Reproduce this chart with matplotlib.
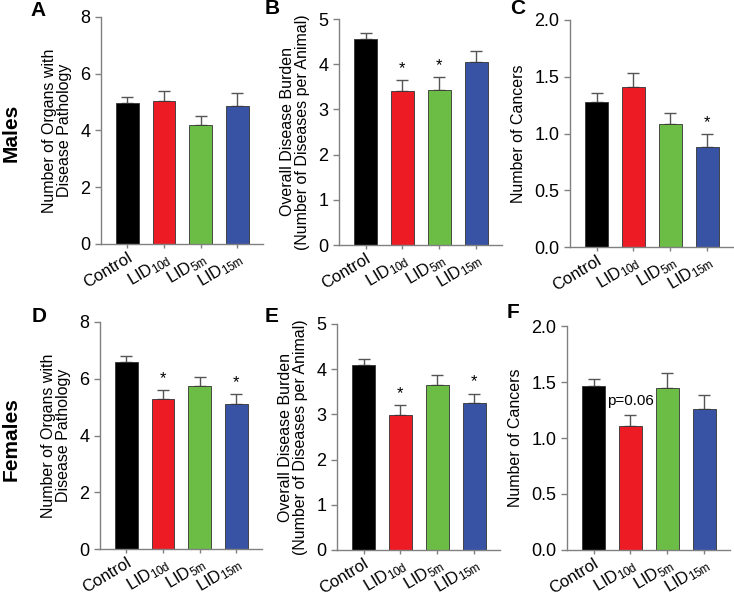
import matplotlib
matplotlib.use('Agg')
import matplotlib.pyplot as plt

plt.rcParams['font.family'] = ['Liberation Sans', 'DejaVu Sans']
plt.rcParams['mathtext.fontset'] = 'custom'
plt.rcParams['mathtext.rm'] = 'Liberation Sans'
plt.rcParams['mathtext.it'] = 'Liberation Sans:italic'
plt.rcParams['mathtext.bf'] = 'Liberation Sans:bold'

groups = ['Control', 'LID10d', 'LID5m', 'LID15m']
tick_labels = ['Control', r'LID$_{\mathregular{10d}}$', r'LID$_{\mathregular{5m}}$', r'LID$_{\mathregular{15m}}$']
colors = ['#000000', '#ED1C24', '#6CBD45', '#3953A4']

males_organs = [4.98, 5.04, 4.19, 4.88]
males_organs_err = [0.19, 0.35, 0.31, 0.44]
males_burden = [4.55, 3.41, 3.44, 4.04]
males_burden_err = [0.15, 0.24, 0.27, 0.25]
males_cancers = [1.28, 1.41, 1.08, 0.88]
males_cancers_err = [0.077, 0.126, 0.097, 0.115]

females_organs = [6.60, 5.27, 5.75, 5.10]
females_organs_err = [0.20, 0.34, 0.32, 0.36]
females_burden = [4.09, 2.99, 3.64, 3.25]
females_burden_err = [0.13, 0.21, 0.23, 0.21]
females_cancers = [1.46, 1.11, 1.45, 1.26]
females_cancers_err = [0.066, 0.098, 0.129, 0.12]

organs_label = 'Number of Organs with\nDisease Pathology'
burden_label = 'Overall Disease Burden\n(Number of Diseases per Animal)'
cancers_label = 'Number of Cancers'

# letter, values, errors, ylabel, ymax, yticks, fmt, marks, axes rect px (left, top, w, h), letter px (x, y)
panels = [
    ('A', males_organs, males_organs_err, organs_label, 8, [0, 2, 4, 6, 8], '{:.0f}', {},
     (101, 17, 162, 227), (30, 11)),
    ('B', males_burden, males_burden_err, burden_label, 5, [0, 1, 2, 3, 4, 5], '{:.0f}', {1: '*', 2: '*'},
     (339, 19, 163, 226), (265, 9)),
    ('C', males_cancers, males_cancers_err, cancers_label, 2.0, [0, 0.5, 1.0, 1.5, 2.0], '{:.1f}', {3: '*'},
     (570, 20, 163, 227), (510, 9)),
    ('D', females_organs, females_organs_err, organs_label, 8, [0, 2, 4, 6, 8], '{:.0f}', {1: '*', 3: '*'},
     (100, 322, 162, 227), (32, 316)),
    ('E', females_burden, females_burden_err, burden_label, 5, [0, 1, 2, 3, 4, 5], '{:.0f}', {1: '*', 3: '*'},
     (337, 324, 163, 226), (265, 317)),
    ('F', females_cancers, females_cancers_err, cancers_label, 2.0, [0, 0.5, 1.0, 1.5, 2.0], '{:.1f}', {1: 'p=0.06'},
     (567, 326, 163, 224), (507, 313)),
]

W, H = 734, 598
fig = plt.figure(figsize=(W / 100, H / 100), dpi=100)
spine_color = '#808080'

for letter, vals, errs, ylabel, ymax, yticks, fmt, marks, rect, lpos in panels:
    left, top, width, height = rect
    ax = fig.add_axes([left / W, 1 - (top + height) / H, width / W, height / H])
    x = range(len(groups))
    ax.bar(x, vals, width=0.62, color=colors, edgecolor='#333333', linewidth=0.6, zorder=2)
    ax.errorbar(x, vals, yerr=[[0] * len(vals), errs], fmt='none', ecolor='#555555',
                elinewidth=1.0, capsize=4.3, capthick=1.0, zorder=1)
    for i, txt in marks.items():
        size = 12 if txt == '*' else 11
        off = 3 if txt == '*' else 5
        ax.annotate(txt, (i, vals[i] + errs[i]), xytext=(0, off), textcoords='offset points',
                    ha='center', va='bottom', fontsize=size)
    ax.set_xlim(-0.72, 3.7)
    ax.set_ylim(0, ymax)
    ax.set_yticks(yticks)
    ax.set_yticklabels([fmt.format(t) for t in yticks], fontsize=13)
    ax.set_xticks(list(x))
    ax.set_xticklabels(tick_labels, rotation=31, ha='right', rotation_mode='anchor', fontsize=12)
    ax.set_ylabel(ylabel, fontsize=11.5, labelpad=6, linespacing=1.0)
    for s in ['top', 'right']:
        ax.spines[s].set_visible(False)
    for s in ['left', 'bottom']:
        ax.spines[s].set_color(spine_color)
        ax.spines[s].set_linewidth(1.0)
    ax.tick_params(axis='both', colors=spine_color, labelcolor='black', length=4, width=1.0)
    ax.tick_params(axis='x', length=3, pad=1)
    fig.text(lpos[0] / W, 1 - lpos[1] / H, letter, fontsize=15, fontweight='bold',
             ha='left', va='center')

fig.text(11 / W, 1 - 133 / H, 'Males', rotation=90, fontsize=15, fontweight='bold', ha='center', va='center')
fig.text(11 / W, 1 - 439 / H, 'Females', rotation=90, fontsize=15, fontweight='bold', ha='center', va='center')

fig.savefig('out.png', dpi=100)
